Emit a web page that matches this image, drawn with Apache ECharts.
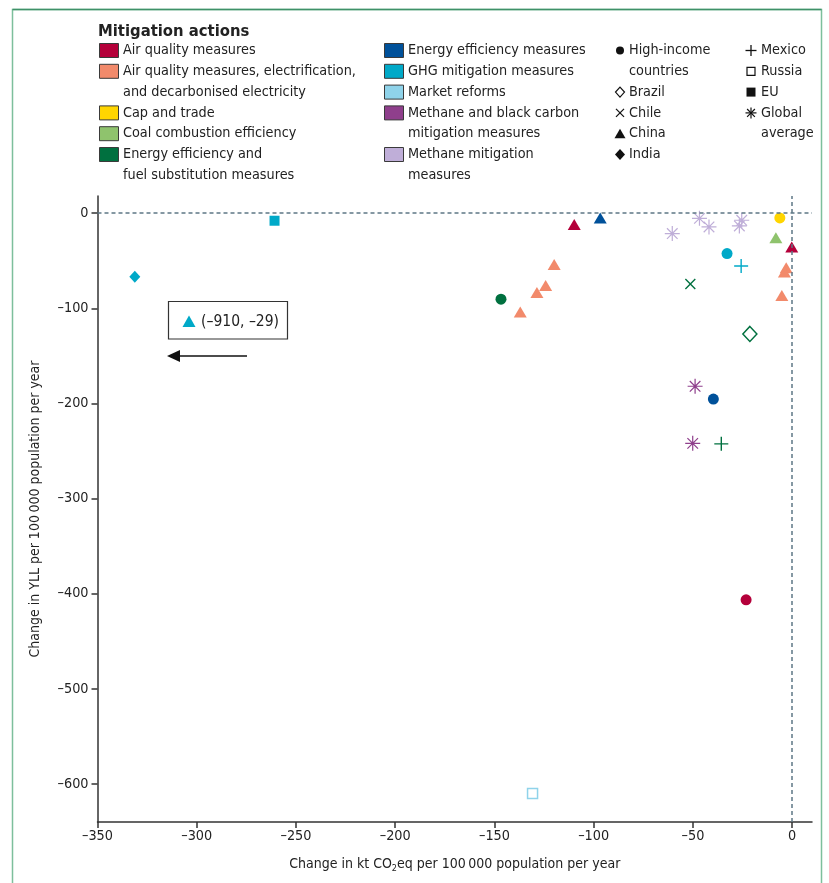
<!DOCTYPE html>
<html>
<head>
<meta charset="utf-8">
<script src="https://cdn.jsdelivr.net/npm/echarts@6/dist/echarts.min.js"></script>
<style>
html,body{margin:0;padding:0;background:#fff;}
#chart{width:829px;height:883px;}
</style>
</head>
<body>
<div id="chart"></div>
<script>
// ---------- DATA ----------
// Each point: [change in kt CO2eq, change in YLL, region]
const airQuality = [[-109.8, -12, 'China'], [-0.2, -35.5, 'China'], [-23.2, -406.5, 'High-income']];
const airQualityElec = [[-137.0, -104, 'China'], [-128.6, -83.5, 'China'], [-124.2, -76, 'China'], [-119.9, -54, 'China'],
  [-3.0, -57.5, 'China'], [-3.9, -62, 'China'], [-5.2, -86.5, 'China']];
const capAndTrade = [[-6.2, -5, 'High-income']];
const coalEfficiency = [[-8.2, -26, 'China']];
const energyFuelSubst = [[-146.7, -90.5, 'High-income'], [-51.3, -74.5, 'Chile'], [-21.3, -127, 'Brazil'], [-35.7, -242.5, 'Mexico']];
const energyEfficiency = [[-96.7, -5, 'China'], [-39.7, -195.5, 'High-income']];
const ghgMitigation = [[-331.2, -67, 'India'], [-260.8, -8, 'EU'], [-32.8, -42.5, 'High-income'], [-25.7, -55.5, 'Mexico']];
const marketReforms = [[-130.8, -610, 'Russia']];
const methaneBlackCarbon = [[-48.9, -182, 'Global average'], [-50.1, -242, 'Global average']];
const methaneMitigation = [[-60.4, -21.5, 'Global average'], [-46.7, -5.5, 'Global average'], [-41.9, -14.5, 'Global average'],
  [-25.4, -7.5, 'Global average'], [-26.6, -13.5, 'Global average']];
// off-chart GHG mitigation point for China
const offChartPoint = [-910, -29];

const actionNames = ['Air quality measures', 'Air quality measures, electrification,\nand decarbonised electricity',
  'Cap and trade', 'Coal combustion efficiency', 'Energy efficiency and\nfuel substitution measures',
  'Energy efficiency measures', 'GHG mitigation measures', 'Market reforms',
  'Methane and black carbon\nmitigation measures', 'Methane mitigation\nmeasures'];
const actionData = [airQuality, airQualityElec, capAndTrade, coalEfficiency, energyFuelSubst,
  energyEfficiency, ghgMitigation, marketReforms, methaneBlackCarbon, methaneMitigation];
const regionNames = ['High-income', 'Brazil', 'Chile', 'China', 'India', 'Mexico', 'Russia', 'EU', 'Global average'];
const regionLabels = ['High-income\ncountries', 'Brazil', 'Chile', 'China', 'India', 'Mexico', 'Russia', 'EU', 'Global\naverage'];
const xTicks = [-350, -300, -250, -200, -150, -100, -50, 0];
const yTicks = [0, -100, -200, -300, -400, -500, -600];

// ---------- STYLE ----------
const actionColors = ['#b4003a', '#f28a6b', '#ffd500', '#8fc36d', '#00703f', '#00519a', '#00a9c8', '#8fd3ea', '#8f3f8c', '#bfaed8'];
const FONT = "'Liberation Sans Narrow','DejaVu Sans Condensed',sans-serif";
const FS = 14.3;
const TXT = '#222';
const PLUS = 'path://M6.3,0H7.7V6.3H14V7.7H7.7V14H6.3V7.7H0V6.3H6.3Z';
const STAR = 'path://M0,9.2H20V10.8H0Z M10.8,0V20H9.2V0Z M3.5,2.36L17.64,16.5L16.5,17.64L2.36,3.5Z M17.64,3.5L3.5,17.64L2.36,16.5L16.5,2.36Z M8.6,8.6H11.4V11.4H8.6Z';
function regionSymbol(r) {
  switch (r) {
    case 'High-income': return {symbol: 'circle', size: 11};
    case 'Brazil': return {symbol: 'diamond', size: [14, 15], hollow: true};
    case 'Chile': return {symbol: PLUS, size: 14, rotate: 45};
    case 'China': return {symbol: 'triangle', size: [13, 11]};
    case 'India': return {symbol: 'diamond', size: [11, 12]};
    case 'Mexico': return {symbol: PLUS, size: 14};
    case 'Russia': return {symbol: 'rect', size: 10, hollow: true};
    case 'EU': return {symbol: 'rect', size: 10};
    default: return {symbol: STAR, size: 15};
  }
}

const series = actionData.map((pts, i) => ({
  type: 'scatter',
  name: actionNames[i],
  z: 3,
  itemStyle: {opacity: 1},
  data: pts.map(p => {
    const s = regionSymbol(p[2]);
    return {
      value: [p[0], p[1]],
      symbol: s.symbol,
      symbolSize: s.size,
      symbolRotate: s.rotate || 0,
      itemStyle: s.hollow ? {color: '#fff', borderColor: actionColors[i], borderWidth: 1.5, opacity: 1} : {color: actionColors[i], opacity: 1}
    };
  })
}));
series[0].markLine = {
  silent: true, symbol: 'none', label: {show: false},
  lineStyle: {type: [4, 3], color: '#5d7785', width: 1.5},
  data: [{yAxis: 0}, {xAxis: 0}]
};

// ---------- LEGEND (graphic) ----------
const rowY = i => 50.5 + 20.8 * i;
const graphics = [];
graphics.push({type: 'rect', shape: {x: 12.5, y: 9.5, width: 809, height: 900}, style: {fill: 'none', stroke: '#7dbf9c', lineWidth: 1.5}, z: 10});
graphics.push({type: 'line', shape: {x1: 12.5, y1: 9.5, x2: 821.5, y2: 9.5}, style: {stroke: '#3f9168', lineWidth: 1.5}, z: 11});
graphics.push({type: 'text', x: 98, y: 31.5, style: {text: 'Mitigation actions', font: 'bold 16.5px ' + FONT, fill: TXT, verticalAlign: 'middle'}});
const actionRows = [[0, 0], [0, 1], [0, 3], [0, 4], [0, 5], [1, 0], [1, 1], [1, 2], [1, 3], [1, 5]];
const colX = [[99, 123], [384, 408]];
actionRows.forEach(([c, r], i) => {
  const cy = rowY(r);
  graphics.push({type: 'rect', shape: {x: colX[c][0] + 0.5, y: cy - 7, width: 19, height: 14}, style: {fill: actionColors[i], stroke: '#3a3a3a', lineWidth: 1}});
  graphics.push({type: 'text', x: colX[c][1], y: cy - 10.4, style: {text: actionNames[i], font: FS + 'px ' + FONT, fill: TXT, lineHeight: 20.8, verticalAlign: 'top'}});
});
const regionPos = [[620, 629, 0], [620, 629, 2], [620, 629, 3], [620, 629, 4], [620, 629, 5], [751, 761, 0], [751, 761, 1], [751, 761, 2], [751, 761, 3]];
function legendShape(r, cx, cy) {
  const k = '#111';
  const ln = (x1, y1, x2, y2, w) => ({type: 'line', shape: {x1, y1, x2, y2}, style: {stroke: k, lineWidth: w || 1.3}});
  switch (r) {
    case 'High-income': return {type: 'circle', shape: {cx, cy, r: 4}, style: {fill: k}};
    case 'Brazil': return {type: 'polygon', shape: {points: [[cx, cy - 5], [cx + 4.5, cy], [cx, cy + 5], [cx - 4.5, cy]]}, style: {fill: 'none', stroke: k, lineWidth: 1.2}};
    case 'Chile': return {type: 'group', children: [ln(cx - 4, cy - 4, cx + 4, cy + 4), ln(cx - 4, cy + 4, cx + 4, cy - 4)]};
    case 'China': return {type: 'polygon', shape: {points: [[cx, cy - 5], [cx + 5.5, cy + 4.5], [cx - 5.5, cy + 4.5]]}, style: {fill: k}};
    case 'India': return {type: 'polygon', shape: {points: [[cx, cy - 5.5], [cx + 5, cy], [cx, cy + 5.5], [cx - 5, cy]]}, style: {fill: k}};
    case 'Mexico': return {type: 'group', children: [ln(cx - 5.5, cy, cx + 5.5, cy), ln(cx, cy - 5.5, cx, cy + 5.5)]};
    case 'Russia': return {type: 'rect', shape: {x: cx - 4, y: cy - 4, width: 8, height: 8}, style: {fill: 'none', stroke: k, lineWidth: 1.2}};
    case 'EU': return {type: 'rect', shape: {x: cx - 4.5, y: cy - 4.5, width: 9, height: 9}, style: {fill: k}};
    default: return {type: 'group', children: [
      ln(cx - 5.5, cy, cx + 5.5, cy, 1.2), ln(cx, cy - 5.5, cx, cy + 5.5, 1.2),
      ln(cx - 3.9, cy - 3.9, cx + 3.9, cy + 3.9, 1.2), ln(cx - 3.9, cy + 3.9, cx + 3.9, cy - 3.9, 1.2)]};
  }
}
regionNames.forEach((r, i) => {
  const [sx, tx, row] = regionPos[i];
  const cy = rowY(row);
  graphics.push(legendShape(r, sx, cy));
  graphics.push({type: 'text', x: tx, y: cy - 10.4, style: {text: regionLabels[i], font: FS + 'px ' + FONT, fill: TXT, lineHeight: 20.8, verticalAlign: 'top'}});
});
// annotation for off-chart point
const fmt = v => String(v).replace('-', '\u2013');
graphics.push({type: 'rect', shape: {x: 168.5, y: 301.5, width: 119, height: 37.5}, style: {fill: '#fff', stroke: '#333', lineWidth: 1.2}});
graphics.push({type: 'polygon', shape: {points: [[189, 315.5], [195.5, 327], [182.5, 327]]}, style: {fill: actionColors[6]}});
graphics.push({type: 'text', x: 201, y: 321.5, style: {text: '(' + fmt(offChartPoint[0]) + ', ' + fmt(offChartPoint[1]) + ')', font: '15.5px ' + FONT, fill: TXT, verticalAlign: 'middle'}});
graphics.push({type: 'line', shape: {x1: 247, y1: 356, x2: 176, y2: 356}, style: {stroke: '#111', lineWidth: 1.4}});
graphics.push({type: 'polygon', shape: {points: [[167, 356], [180, 350], [180, 362]]}, style: {fill: '#111'}});

// ---------- CHART ----------
const chart = echarts.init(document.getElementById('chart'), null, {renderer: 'canvas'});
chart.setOption({
  animation: false,
  textStyle: {fontFamily: FONT},
  grid: {left: 97.5, right: 17, top: 196, bottom: 61, containLabel: false},
  xAxis: {
    type: 'value', min: -350, max: 10,
    axisLine: {show: true, onZero: false, lineStyle: {color: '#333', width: 1.5}},
    axisTick: {show: true, customValues: xTicks, length: 6, lineStyle: {color: '#333', width: 1.5}},
    axisLabel: {customValues: xTicks, formatter: fmt, color: TXT, fontSize: FS, fontFamily: FONT, margin: 7},
    splitLine: {show: false},
    name: '{a|Change in kt CO}{s|2}{a|eq per 100\u2009000 population per year}',
    nameLocation: 'middle', nameGap: 33,
    nameTextStyle: {rich: {a: {fontSize: 14, fontFamily: FONT, color: TXT, lineHeight: 18}, s: {fontSize: 9, fontFamily: FONT, color: TXT, lineHeight: 18, verticalAlign: 'bottom', padding: [8, 0, 0, 0]}}}
  },
  yAxis: {
    type: 'value', min: -640, max: 18,
    axisLine: {show: true, onZero: false, lineStyle: {color: '#333', width: 1.5}},
    axisTick: {show: true, customValues: yTicks, length: 6, lineStyle: {color: '#333', width: 1.5}},
    axisLabel: {customValues: yTicks, formatter: fmt, color: TXT, fontSize: FS, fontFamily: FONT, margin: 9},
    splitLine: {show: false},
    name: 'Change in YLL per 100\u2009000 population per year',
    nameLocation: 'middle', nameGap: 55, nameRotate: 90,
    nameTextStyle: {fontSize: 14, fontFamily: FONT, color: TXT}
  },
  graphic: graphics,
  series: series
});
</script>
</body>
</html>
